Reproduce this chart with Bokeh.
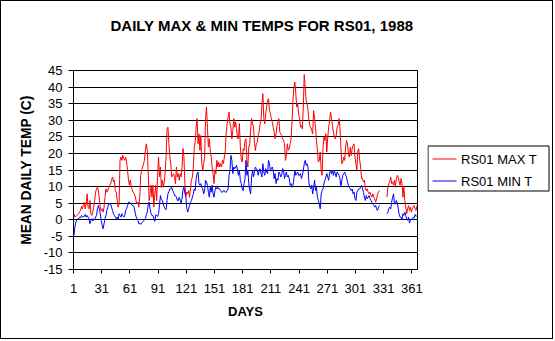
import numpy as np
from bokeh.plotting import figure
from bokeh.layouts import row
from bokeh.models import FixedTicker, ColumnDataSource, Title
from bokeh.core.properties import value
from bokeh.embed import file_html
from bokeh.resources import INLINE

title_text = "DAILY MAX & MIN TEMPS FOR RS01, 1988"
x_label = "DAYS"
y_label = "MEAN DAILY TEMP (C)"
series_names = ["RS01 MAX T", "RS01 MIN T"]
series_colors = ["#FF0000", "#0000FF"]
x_tick_days = [1, 31, 61, 91, 121, 151, 181, 211, 241, 271, 301, 331, 361]
y_ticks = [-15, -10, -5, 0, 5, 10, 15, 20, 25, 30, 35, 40, 45]

# daily maximum temperature, days 1..366 (None = no record)
max_t = [
    1.8, 0.8, 1.0, 1.3, 1.5, 1.8, 2.5, 2.8, 4.0, 3.3,
    4.5, 5.3, 3.3, 4.8, 7.8, 3.8, 3.3, 5.8, 1.8, 1.3,
    2.3, 3.8, 5.8, 8.3, 9.3, 9.8, 8.8, 6.3, 3.8, 2.8,
    3.3, 2.3, 3.8, 6.8, 9.3, 8.3, 8.8, 9.8, 10.4, 10.8,
    11.9, 12.9, 11.4, 11.9, 8.8, 8.3, 5.8, 3.8, 4.8, 17.9,
    18.9, 17.9, 19.4, 18.4, 17.9, 18.9, 17.4, 14.9, 12.0, 10.4,
    12.0, 9.8, 9.0, 8.3, 7.8, 7.3, 5.8, 4.8, 5.3, 3.8,
    6.8, 13.4, 14.9, 15.9, 16.9, 17.9, 20.9, 22.9, 20.9, 14.0,
    5.8, 7.8, 10.4, 6.8, 10.4, 3.8, 7.8, 10.4, 5.8, 13.4,
    18.9, 12.9, 15.9, 9.8, 11.9, 9.8, 11.4, 13.9, 18.9, 27.4,
    27.9, 22.9, 18.9, 16.9, 12.9, 13.4, 13.9, 12.9, 10.9, 15.9,
    12.9, 13.9, 11.9, 13.9, 12.9, 15.9, 21.5, 19.0, 11.0, 7.0,
    8.3, 7.8, 8.8, 6.8, 9.8, 11.9, 12.9, 15.9, 21.9, 23.4,
    27.9, 30.5, 22.9, 25.9, 20.9, 25.4, 16.9, 14.9, 16.9, 18.9,
    30.5, 34.0, 27.9, 21.9, 24.4, 20.9, 18.9, 15.9, 13.9, 10.9,
    14.9, 13.9, 17.9, 15.9, 17.4, 15.9, 16.9, 15.9, 17.9, 16.9,
    18.9, 20.9, 26.4, 28.9, 31.0, 32.5, 28.9, 27.9, 24.4, 26.9,
    30.5, 27.9, 29.5, 27.5, 24.5, 24.5, 29.0, 22.0, 18.0, 17.4,
    21.4, 20.9, 23.9, 24.4, 17.9, 15.9, 21.9, 22.9, 27.4, 30.5,
    28.9, 27.9, 23.4, 20.9, 22.9, 23.4, 25.4, 26.4, 28.9, 29.9,
    35.0, 38.0, 30.5, 28.9, 31.9, 34.0, 36.0, 36.5, 33.0, 32.0,
    30.5, 29.4, 27.9, 26.4, 24.4, 25.9, 28.4, 29.4, 30.5, 26.4,
    25.9, 25.4, 24.4, 23.9, 22.9, 17.9, 19.4, 22.9, 20.9, 21.4,
    22.9, 24.4, 29.4, 36.0, 40.0, 41.5, 38.0, 34.0, 35.0, 32.0,
    30.5, 27.9, 28.4, 27.4, 34.0, 43.8, 40.0, 36.0, 35.0, 32.9,
    29.9, 28.4, 27.9, 26.9, 25.9, 32.9, 30.5, 27.9, 23.9, 20.9,
    17.4, 17.9, 20.4, 14.9, 13.4, 21.9, 24.9, 23.9, 25.9, 20.4,
    24.9, 27.9, 29.9, 32.5, 30.5, 28.4, 26.4, 24.9, 24.4, 25.4,
    27.9, 28.4, 30.5, 27.9, 21.9, 16.9, 17.4, 18.9, 17.9, 21.9,
    23.9, 22.9, 19.9, 18.9, 21.9, 19.4, 21.4, 22.4, 22.9, 18.9,
    16.9, 14.9, 20.9, 21.4, 17.9, 15.9, 12.4, 12.4, 11.4, 11.9,
    9.3, 8.8, 9.3, 8.3, 7.8, 8.3, 7.3, 6.8, 7.8, 6.8,
    6.3, 5.3, 6.3, 7.8, 8.3, 8.8, None, None, None, None,
    None, None, None, 6.8, 9.8, 10.9, 11.4, 12.9, 10.9, 11.4,
    10.4, 11.9, 9.8, 12.4, 13.4, 12.9, 11.4, 10.4, 12.4, 10.9,
    6.8, 9.8, 5.8, 3.8, 1.8, 3.3, 4.3, 2.8, 3.8, 2.3,
    3.3, 3.8, 4.3, 3.3, 2.8, 4.3,
]

# daily minimum temperature, days 1..366 (None = no record)
min_t = [
    -4.7, -2.2, -0.7, 0.0, 0.3, 0.3, 0.8, 0.6, 1.3, 0.8,
    1.0, 1.0, 1.6, 0.8, 1.3, 0.8, 0.3, -1.2, -0.2, 0.3,
    -0.4, 0.3, 0.0, 0.8, 1.3, 3.3, 4.3, 3.3, 1.8, -0.2,
    -1.7, -2.7, -1.2, 0.3, 1.3, 2.8, 3.8, 4.8, 4.8, 4.8,
    3.8, 2.8, 1.8, 1.3, 0.8, 0.3, 0.8, 0.0, 1.8, 1.3,
    0.8, 1.8, 1.3, 0.8, 1.3, 2.8, 3.3, 4.3, 5.3, 5.3,
    4.8, 4.8, 4.3, 4.3, 3.8, 2.3, 1.0, 0.3, -0.2, -1.2,
    -1.0, -1.4, -1.0, -0.7, -0.4, 0.0, 0.3, 1.5, 2.3, 4.5,
    5.3, 3.3, 1.8, 1.3, 1.3, 0.3, -0.5, 1.5, 1.3, 1.0,
    1.8, 4.5, 7.3, 6.0, 5.8, 4.8, 3.8, 3.3, 3.0, 5.8,
    7.8, 8.5, 9.3, 9.3, 9.8, 8.8, 8.3, 7.3, 7.3, 6.8,
    5.8, 5.8, 6.8, 5.8, 5.0, 6.5, 9.0, 9.8, 8.0, 7.0,
    3.5, 2.3, 3.3, 4.3, 5.3, 5.8, 6.8, 7.8, 9.3, 8.8,
    12.4, 13.9, 14.4, 10.9, 10.4, 10.9, 9.8, 9.3, 7.8, 8.8,
    11.9, 11.4, 10.4, 8.3, 6.8, 9.8, 8.3, 10.4, 7.8, 6.8,
    8.8, 9.8, 9.3, 9.8, 9.3, 9.3, 8.8, 8.3, 8.3, 8.8,
    8.8, 8.3, 8.3, 8.8, 9.3, 13.4, 14.9, 19.4, 17.9, 13.9,
    15.9, 15.4, 15.9, 16.4, 14.9, 13.4, 14.9, 11.9, 10.9, 9.3,
    8.8, 10.9, 12.4, 17.9, 13.4, 14.9, 10.9, 8.8, 7.8, 12.9,
    14.9, 12.9, 14.4, 15.9, 15.4, 14.9, 13.4, 14.9, 15.4, 13.9,
    12.9, 16.9, 14.4, 13.4, 15.4, 14.4, 13.9, 17.9, 16.9, 14.9,
    15.4, 15.9, 14.9, 12.4, 13.9, 10.9, 12.4, 11.9, 14.4, 13.9,
    12.9, 13.4, 15.4, 14.9, 12.4, 13.4, 14.4, 12.9, 13.4, 12.4,
    10.4, 10.9, 9.8, 10.4, 12.4, 14.9, 13.4, 13.9, 14.4, 13.4,
    13.4, 13.9, 12.4, 13.4, 14.9, 16.9, 17.9, 16.4, 16.9, 15.9,
    10.9, 9.8, 9.3, 10.4, 7.8, 9.8, 11.9, 8.8, 9.8, 6.8,
    5.8, 4.8, 3.3, 7.8, 8.8, 9.3, 10.9, 11.9, 12.9, 13.9,
    12.9, 11.9, 13.9, 14.9, 13.9, 14.9, 13.4, 14.9, 13.9, 12.9,
    14.4, 13.9, 13.4, 12.4, 9.8, 11.9, 13.4, 13.9, 14.4, 13.4,
    12.9, 11.4, 10.4, 9.8, 9.3, 8.8, 9.3, 7.8, 8.3, 6.3,
    5.8, 8.3, 8.8, 9.3, 9.3, 9.8, 10.4, 9.3, 8.3, 6.8,
    5.8, 7.3, 6.3, 6.8, 7.3, 6.3, 5.8, 5.3, 4.8, 4.3,
    3.8, 4.3, 3.3, 2.8, 3.8, 4.3, None, None, None, None,
    None, None, None, 1.8, 2.3, 3.3, 3.8, 3.3, 5.3, 6.8,
    7.8, 4.8, 4.8, 5.8, 5.0, 3.5, 1.5, 0.8, 0.8, 0.0,
    1.8, 1.3, 2.3, 1.3, 0.3, -0.2, 0.8, -1.0, -0.2, 0.3,
    0.0, 0.8, 0.6, 1.6, 1.0, 1.3,
]

FONT = "Liberation Sans"
n_days = len(max_t)
day_pos = np.arange(n_days) + 0.5
src = ColumnDataSource(dict(
    x=day_pos,
    tmax=np.array([np.nan if v is None else v for v in max_t], dtype=float),
    tmin=np.array([np.nan if v is None else v for v in min_t], dtype=float),
))

BT, BB = 69, 71   # frame borders (top / bottom), shared by both panels
H = 339

# ---------------- main chart ----------------
p = figure(width=427, height=H, x_range=(0, n_days), y_range=(-15, 45),
           title=None, output_backend="svg", toolbar_location=None,
           min_border_left=72, min_border_right=11, min_border_top=BT, min_border_bottom=BB,
           background_fill_color="white", border_fill_color="white",
           outline_line_color="black", outline_line_width=1)
p.styles = {"border-left": "1px solid black", "border-top": "1px solid black",
            "border-bottom": "1px solid black"}

spacer = Title(text=" ", text_font_size="1px", standoff=34)
p.add_layout(spacer, "above")
main_title = Title(text=title_text, align="left", offset=37, standoff=0,
                   vertical_align="bottom", text_font=FONT, text_font_size="15px",
                   text_font_style="bold", text_color="black")
p.add_layout(main_title, "above")

p.line("x", "tmax", source=src, line_color=series_colors[0], line_width=1)
p.line("x", "tmin", source=src, line_color=series_colors[1], line_width=1)

xt = [d - 1 for d in x_tick_days]
p.xaxis.ticker = FixedTicker(ticks=xt)
p.xaxis.major_label_overrides = {t: str(d) for t, d in zip(xt, x_tick_days)}
p.yaxis.ticker = FixedTicker(ticks=y_ticks)
p.yaxis.major_label_overrides = {t: str(t) for t in y_ticks}

for ax in (p.xaxis[0], p.yaxis[0]):
    ax.axis_line_color = "black"
    ax.major_tick_line_color = "black"
    ax.minor_tick_line_color = None
    ax.major_tick_in = 0
    ax.major_label_text_font = FONT
    ax.major_label_text_font_size = "13px"
    ax.major_label_text_color = "black"
    ax.axis_label_text_font = FONT
    ax.axis_label_text_font_style = "bold"
    ax.axis_label_text_color = "black"

p.xaxis.axis_label = x_label
p.yaxis.axis_label = y_label
p.xaxis.axis_label_text_font_size = "13px"
p.yaxis.axis_label_text_font_size = "13.8px"
p.xaxis.major_tick_out = 4
p.yaxis.major_tick_out = 5
p.xaxis.major_label_standoff = 10
p.yaxis.major_label_standoff = 6
p.xaxis.axis_label_standoff = 8
p.yaxis.axis_label_standoff = 7

p.xgrid.visible = False
p.ygrid.ticker = FixedTicker(ticks=y_ticks)
p.ygrid.grid_line_color = "black"
p.ygrid.grid_line_width = 1

# ---------------- legend strip (canvas pixel coordinates, y downward) ----------------
q = figure(width=126, height=H, x_range=(0, 126), y_range=(H - BB, BT),
           title=None, output_backend="svg", toolbar_location=None,
           x_axis_location=None, y_axis_location=None,
           min_border_left=0, min_border_right=0, min_border_top=BT, min_border_bottom=BB,
           background_fill_color="white", border_fill_color="white",
           outline_line_color=None)
q.styles = {"border-right": "1px solid black", "border-top": "1px solid black",
            "border-bottom": "1px solid black"}
q.xgrid.visible = False
q.ygrid.visible = False

# legend box
q.quad(left=[0.5], right=[121.5], top=[144.5], bottom=[189.5],
       fill_color="white", line_color="black", line_width=1)
row_y = [157.5, 179.5]
q.segment(x0=[5, 5], x1=[29, 29], y0=row_y, y1=row_y,
          line_color=series_colors, line_width=1)
q.text(x=[33.5, 33.5], y=row_y, text=series_names,
       text_font=value(FONT), text_font_size="13px", text_color="black",
       text_baseline="middle", text_align="left")

layout = row(p, q, spacing=0)
open("out.html", "w").write(file_html(layout, INLINE))
